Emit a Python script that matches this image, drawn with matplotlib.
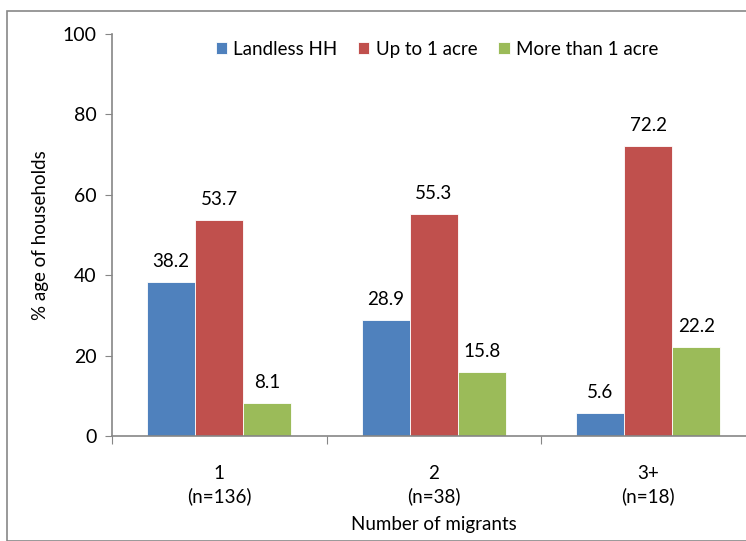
import numpy as np
import matplotlib
matplotlib.use("Agg")
import matplotlib.pyplot as plt
from matplotlib.patches import Rectangle

plt.rcParams["font.family"] = ["Lato", "DejaVu Sans"]

groups = ["1\n(n=136)", "2\n(n=38)", "3+\n(n=18)"]
series = ["Landless HH", "Up to 1 acre", "More than 1 acre"]
landless = [38.2, 28.9, 5.6]
upto1 = [53.7, 55.3, 72.2]
more1 = [8.1, 15.8, 22.2]
colors = ["#4F81BD", "#C0504D", "#9BBB59"]

W, H = 746, 541
fig = plt.figure(figsize=(W / 100, H / 100), dpi=100)
fig.patch.set_facecolor("white")

# chart-area border (runs off the right/bottom edge)
fig.patches.append(Rectangle((7 / W, 0), 1.2, 1 - 11 / H, transform=fig.transFigure,
                             fill=False, edgecolor="#888888", linewidth=1.2))

# axes box in pixels: left 112, y0 at 436, y100 at 34, 3 groups of ~214.5 px
left, bottom, top = 112, 436, 34
gw = 214.5
ax = fig.add_axes([left / W, (H - bottom) / H, 3 * gw / W, (bottom - top) / H])

FS = 13.5
x = np.arange(len(groups))
bw = 0.224
for i, (vals, c, lab) in enumerate(zip([landless, upto1, more1], colors, series)):
    bars = ax.bar(x + (i - 1) * bw, vals, bw, color=c, edgecolor="white",
                  linewidth=0.6, label=lab)
    for b, v in zip(bars, vals):
        ax.text(b.get_x() + b.get_width() / 2, v + 3, f"{v:.1f}",
                ha="center", va="bottom", fontsize=FS)

ax.set_xlim(-0.5, 2.5)
ax.set_ylim(0, 100)
ax.set_yticks(range(0, 101, 20))
ax.set_xticks([-0.5, 0.5, 1.5, 2.5], minor=False)
ax.set_xticklabels([])
ax.set_xticks(x, minor=True)
ax.set_xticklabels(groups, minor=True, fontsize=FS, linespacing=1.35)
ax.tick_params(axis="x", which="minor", length=0, pad=21)
ax.tick_params(axis="x", which="major", length=6, direction="out", color="#868686")
ax.tick_params(axis="y", length=5, direction="out", color="#868686", labelsize=FS + 0.5, pad=6)
for s in ["top", "right"]:
    ax.spines[s].set_visible(False)
for s in ["left", "bottom"]:
    ax.spines[s].set_color("#868686")
    ax.spines[s].set_linewidth(1.2)

ax.set_ylabel("% age of households", fontsize=FS, labelpad=10)
ax.set_xlabel("Number of migrants", fontsize=FS, labelpad=8)

# legend centred near x = 437 px
ax.legend(loc="upper center", bbox_to_anchor=((437 - left) / (3 * gw), 1.025),
          ncol=3, frameon=False, fontsize=FS, handlelength=0.6, handleheight=0.6,
          handletextpad=0.35, columnspacing=1.1)

fig.savefig("out.png", dpi=100, facecolor="white")
